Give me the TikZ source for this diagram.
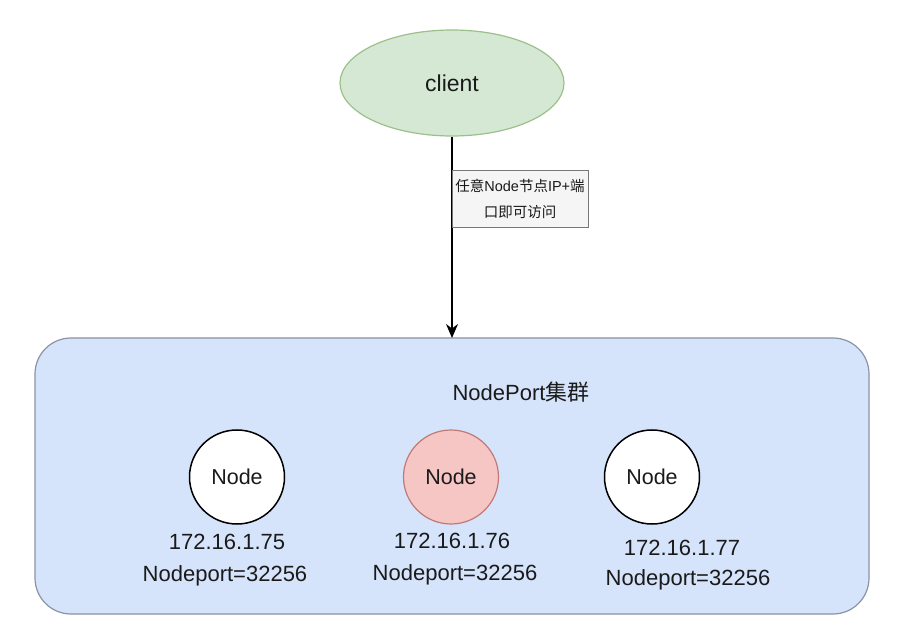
\documentclass[tikz,border=0pt]{standalone}
\usepackage{fontspec}
\setmainfont{Liberation Sans}
\newfontfamily\cjk{Noto Sans CJK SC}
\usetikzlibrary{arrows.meta,shapes.geometric}
\definecolor{clientfill}{HTML}{D5E8D4}
\definecolor{clientdraw}{HTML}{9DC08B}
\definecolor{labelfill}{HTML}{F5F5F5}
\definecolor{labeldraw}{HTML}{777777}
\definecolor{clusterfill}{HTML}{D6E4FB}
\definecolor{clusterdraw}{HTML}{8A94A6}
\definecolor{hotfill}{HTML}{F5C6C4}
\definecolor{hotdraw}{HTML}{C07A76}
\definecolor{txt}{HTML}{1A1A1A}
\tikzset{
  clientshape/.style={ellipse, draw=clientdraw, fill=clientfill, line width=1.2pt, minimum width=224pt, minimum height=106pt, inner sep=0pt, font=\fontsize{23}{27}\selectfont, text=txt},
  edgelabel/.style={draw=labeldraw, fill=labelfill, line width=0.8pt, minimum width=136pt, minimum height=57pt, inner sep=0pt, align=center, font=\fontsize{14.5}{26}\selectfont, text=txt},
  cluster/.style={draw=clusterdraw, fill=clusterfill, line width=1.2pt, rounded corners=36pt},
  hostnode/.style={ellipse, draw=black, fill=white, line width=1.5pt, minimum width=95pt, minimum height=94pt, inner sep=0pt, font=\fontsize{21.5}{24}\selectfont, text=txt},
  hotnode/.style={hostnode, draw=hotdraw, fill=hotfill, line width=1.2pt},
  info/.style={font=\fontsize{22}{26}\selectfont, text=txt, inner sep=0pt},
  flow/.style={-{Stealth[length=14pt,width=12pt]}, line width=1.6pt, draw=black}
}
\begin{document}
\begin{tikzpicture}[x=1pt,y=-1pt]
\useasboundingbox (0,0) rectangle (898,636);
\fill[white] (0,0) rectangle (898,636);
\draw[cluster] (35,338) rectangle (869,614);
\coordinate (clustertop) at (452,338);
\node[info] (title) at (521,392) {NodePort{\cjk 集群}};
\node[clientshape] (client) at (452,83) {client};
\draw[flow] (client.south) -- (clustertop);
\node[edgelabel] (lbl) at (520,198.5) {{\cjk 任意}Node{\cjk 节点}IP+{\cjk 端}\\{\cjk 口即可访问}};
\node[hostnode] (n1) at (237,477) {Node};
\node[hotnode] (n2) at (451,477) {Node};
\node[hostnode] (n3) at (652,477) {Node};
\node[info] (ip1) at (227,542) {172.16.1.75};
\node[info] (np1) at (225,576) {Nodeport=32256};
\node[info] (ip2) at (452,541) {172.16.1.76};
\node[info] (np2) at (455,575) {Nodeport=32256};
\node[info] (ip3) at (682,548) {172.16.1.77};
\node[info] (np3) at (688,580) {Nodeport=32256};
\end{tikzpicture}
\end{document}
